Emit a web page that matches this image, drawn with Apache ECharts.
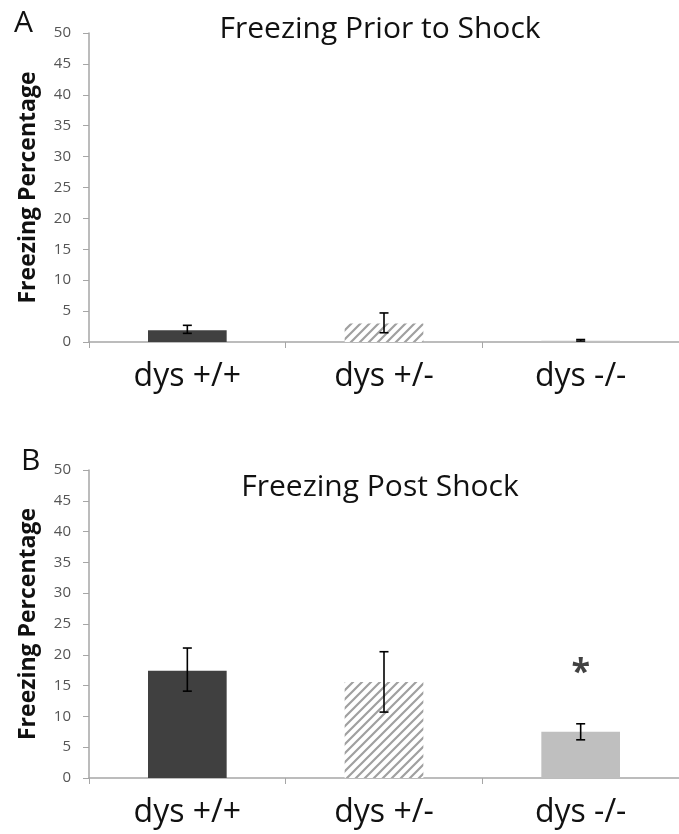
<!DOCTYPE html>
<html>
<head>
<meta charset="utf-8">
<script src="https://cdn.jsdelivr.net/npm/echarts@6/dist/echarts.min.js"></script>
<style>
  html, body { margin: 0; padding: 0; background: #fff; }
  #main { width: 679px; height: 834px; }
</style>
</head>
<body>
<div id="main"></div>
<script>
// 类别
var categories = ['dys +/+', 'dys +/-', 'dys -/-'];
var yTicks = [0, 5, 10, 15, 20, 25, 30, 35, 40, 45, 50];

// A: Freezing Prior to Shock
var priorMean = [1.9, 3.0, 0.2];
var priorLow = [1.4, 1.5, 0.15];
var priorHigh = [2.7, 4.7, 0.4];

// B: Freezing Post Shock
var postMean = [17.4, 15.6, 7.5];
var postLow = [14.1, 10.7, 6.2];
var postHigh = [21.1, 20.5, 8.8];
var postSig = ['', '', '*'];
var sigLevel = [null, null, 17];

var FONT = '"Open Sans", sans-serif';

// 斜线填充
function hatch() {
    var c = document.createElement('canvas');
    c.width = 9; c.height = 9;
    var ctx = c.getContext('2d');
    ctx.fillStyle = '#fff';
    ctx.fillRect(0, 0, 9, 9);
    ctx.strokeStyle = '#a0a0a0';
    ctx.lineWidth = 2.2;
    ctx.beginPath();
    ctx.moveTo(-2, 11); ctx.lineTo(11, -2);
    ctx.moveTo(-2, 2); ctx.lineTo(2, -2);
    ctx.moveTo(7, 11); ctx.lineTo(11, 7);
    ctx.stroke();
    return c;
}
var barColors = ['#404040', { image: hatch(), repeat: 'repeat' }, '#bfbfbf'];

function barData(vals) {
    return vals.map(function (v, i) {
        return { value: v, itemStyle: { color: barColors[i] } };
    });
}

function errData(low, high) {
    return low.map(function (l, i) { return [i, l, high[i]]; });
}

//误差线
function errRender(params, api) {
    var lo = api.coord([api.value(0), api.value(1)]);
    var hi = api.coord([api.value(0), api.value(2)]);
    var w = 4.5;
    var st = { stroke: '#000', lineWidth: 1.6 };
    return {
        type: 'group',
        children: [
            { type: 'line', shape: { x1: lo[0], y1: lo[1], x2: hi[0], y2: hi[1] }, style: st },
            { type: 'line', shape: { x1: lo[0] - w, y1: lo[1], x2: lo[0] + w, y2: lo[1] }, style: st },
            { type: 'line', shape: { x1: hi[0] - w, y1: hi[1], x2: hi[0] + w, y2: hi[1] }, style: st }
        ]
    };
}

function xAxisOf(idx) {
    return {
        type: 'category', gridIndex: idx, data: categories,
        axisLine: { lineStyle: { color: '#a6a6a6', width: 1.5 } },
        axisTick: { show: true, length: 6, lineStyle: { color: '#a6a6a6' } },
        axisLabel: { fontSize: 32, color: '#111', fontFamily: FONT, margin: 19 }
    };
}

function yAxisOf(idx) {
    return {
        type: 'value', gridIndex: idx, min: yTicks[0], max: yTicks[yTicks.length - 1], interval: 5,
        name: 'Freezing Percentage', nameLocation: 'middle', nameGap: 49,
        nameTextStyle: { fontSize: 23, fontWeight: 'bold', color: '#111', fontFamily: FONT },
        axisLine: { show: true, lineStyle: { color: '#a6a6a6', width: 1.5 } },
        axisTick: { show: true, length: 6, lineStyle: { color: '#a6a6a6' } },
        splitLine: { show: false },
        axisLabel: { fontSize: 15, color: '#555', fontFamily: FONT, margin: 18 }
    };
}

var chart = echarts.init(document.getElementById('main'));
var option = {
    backgroundColor: '#fff',
    animation: false,
    title: [
        { text: 'Freezing Prior to Shock', left: 375, top: 9, textAlign: 'center',
          textStyle: { fontSize: 30, fontWeight: 'normal', color: '#111', fontFamily: FONT } },
        { text: 'Freezing Post Shock', left: 375, top: 467, textAlign: 'center',
          textStyle: { fontSize: 30, fontWeight: 'normal', color: '#111', fontFamily: FONT } },
        { text: 'A', left: 9, top: 3, textStyle: { fontSize: 30, fontWeight: 'normal', color: '#111', fontFamily: FONT } },
        { text: 'B', left: 16, top: 441, textStyle: { fontSize: 30, fontWeight: 'normal', color: '#111', fontFamily: FONT } }
    ],
    grid: [
        { left: 89, top: 33, width: 594, height: 309 },
        { left: 89, top: 470, width: 594, height: 308 }
    ],
    xAxis: [xAxisOf(0), xAxisOf(1)],
    yAxis: [yAxisOf(0), yAxisOf(1)],
    series: [
        { type: 'bar', xAxisIndex: 0, yAxisIndex: 0, data: barData(priorMean), barWidth: '40%' },
        { type: 'custom', xAxisIndex: 0, yAxisIndex: 0, data: errData(priorLow, priorHigh),
          renderItem: errRender, z: 5 },
        { type: 'bar', xAxisIndex: 1, yAxisIndex: 1, data: barData(postMean), barWidth: '40%' },
        { type: 'custom', xAxisIndex: 1, yAxisIndex: 1, data: errData(postLow, postHigh),
          renderItem: errRender, z: 5 },
        { type: 'scatter', xAxisIndex: 1, yAxisIndex: 1, symbolSize: 0, z: 6,
          data: sigLevel.map(function (v, i) { return [i, v]; }),
          label: { show: true, position: 'inside', fontSize: 34, fontWeight: 'bold', color: '#111', fontFamily: FONT,
                   formatter: function (p) { return postSig[p.dataIndex]; } } }
    ]
};
chart.setOption(option);
</script>
</body>
</html>
